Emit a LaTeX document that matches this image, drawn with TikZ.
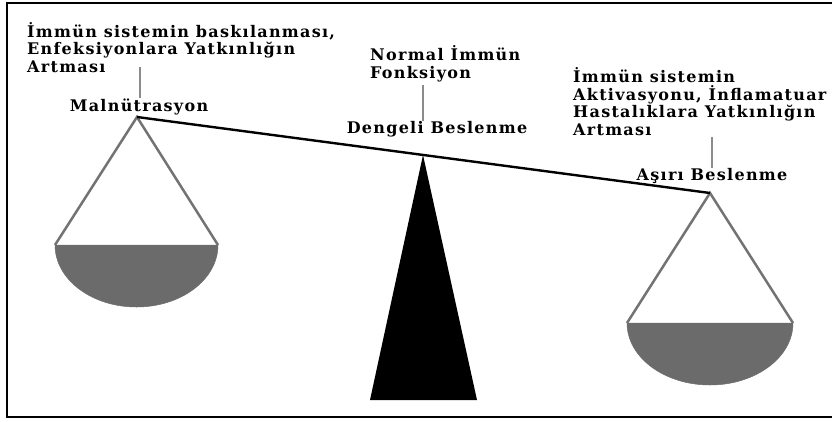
\documentclass[tikz,border=0pt]{standalone}
\usepackage{fontspec}
\setmainfont{DejaVu Serif}[LetterSpace=8]
\usepackage{tikz}

\begin{document}
\begin{tikzpicture}[x=1pt,y=-1pt,
  lbl/.style={inner sep=0pt,font=\fontsize{16}{17.5}\selectfont\bfseries,align=left},
  tick/.style={draw=black!45,line width=1.3pt},
  cord/.style={draw=black!55,line width=2.5pt},
  pan/.style={fill=black!58,draw=black!58,line width=0.5pt}]
  \useasboundingbox (0,0) rectangle (832,421);
  % frame
  \draw[line width=1.2pt] (832,3) -- (7,3) -- (7,417) -- (832,417);
  % pivot points of the beam
  \coordinate (lpiv) at (137,117);
  \coordinate (mpiv) at (423,155);
  \coordinate (rpiv) at (710,193);
  % pan rims
  \coordinate (lpanw) at (55,245);
  \coordinate (lpane) at (218,245);
  \coordinate (rpanw) at (627,323);
  \coordinate (rpane) at (793,323);
  % fulcrum feet
  \coordinate (fw) at (370,400);
  \coordinate (fe) at (477,400);
  % labels (base = last line)
  \node[lbl,anchor=base west] (ltext) at (27,72) {İmmün sistemin baskılanması,\\Enfeksiyonlara Yatkınlığın\\Artması};
  \node[lbl,anchor=base] (mal) at (139,111) {Malnütrasyon};
  \node[lbl,anchor=base west] (mtext) at (370,78) {Normal İmmün\\Fonksiyon};
  \node[lbl,anchor=base] (deng) at (437,133) {Dengeli Beslenme};
  \node[lbl,anchor=base west] (rtext) at (573,135) {İmmün sistemin\\Aktivasyonu, İnflamatuar\\Hastalıklara Yatkınlığın\\Artması};
  \node[lbl,anchor=base] (asiri) at (712,180) {Aşırı Beslenme};
  % ticks from remarks to labels
  \coordinate (lt) at (140,67);
  \coordinate (mt) at (423,85);
  \coordinate (rt) at (712,137);
  \draw[tick] (lt) -- (lt |- mal.north);
  \draw[tick] (mt) -- (mt |- deng.north);
  \draw[tick] (rt) -- (rt |- asiri.north);
  % fulcrum
  \fill[black] (mpiv) -- (fe) -- (fw) -- cycle;
  % pans
  \filldraw[pan] (lpanw) arc[start angle=180,end angle=0,x radius=81.5,y radius=62] -- cycle;
  \filldraw[pan] (rpanw) arc[start angle=180,end angle=0,x radius=83,y radius=62] -- cycle;
  \draw[cord] (lpanw) -- (lpiv) -- (lpane);
  \draw[cord] (rpanw) -- (rpiv) -- (rpane);
  % beam
  \draw[line width=2.4pt] (lpiv) -- (rpiv);
\end{tikzpicture}
\end{document}
